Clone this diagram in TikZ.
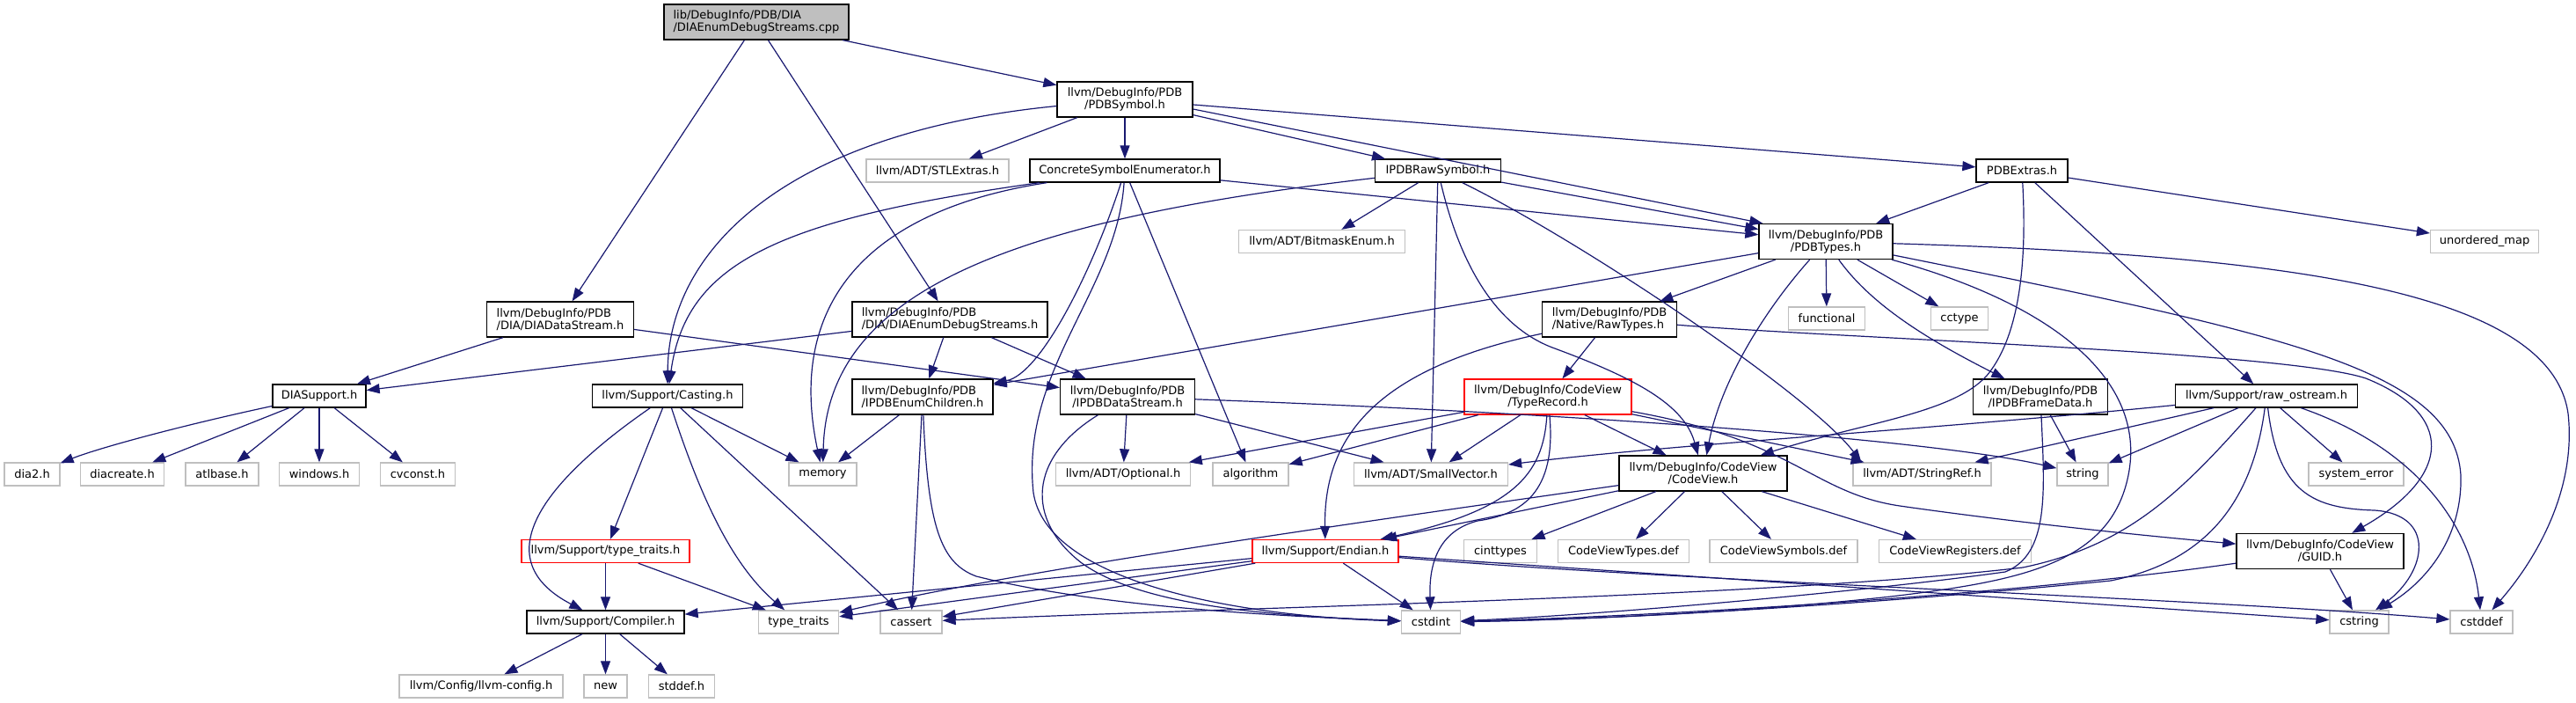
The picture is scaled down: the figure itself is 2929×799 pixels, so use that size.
\documentclass[tikz,border=0pt]{standalone}
\usepackage{fontspec}
\setmainfont{DejaVu Sans}
\usetikzlibrary{arrows.meta}
\definecolor{edgec}{HTML}{191970}
\definecolor{extc}{HTML}{BFBFBF}
\definecolor{redc}{HTML}{FF0000}
\begin{document}
\begin{tikzpicture}[x=1pt,y=-1pt,
  every node/.style={font=\fontsize{13}{14}\selectfont, inner sep=0pt, line width=1.3pt, rectangle, fill=white, minimum height=26pt},
  doc/.style={draw=black},
  ext/.style={draw=extc},
  trn/.style={draw=redc},
  two/.style={minimum height=40pt},
  e/.style={draw=edgec, line width=1.2pt, -{Triangle[length=15pt,width=11pt]}},
]
\useasboundingbox (0,0) rectangle (2929,799);
% nodes
\node[doc,two,fill=extc,align=left,minimum width=210pt] (cpp) at (860,25) {lib/DebugInfo/PDB/DIA\\/DIAEnumDebugStreams.cpp};
\node[doc,two,align=center,minimum width=154pt] (psym) at (1279,113) {llvm/DebugInfo/PDB\\/PDBSymbol.h};
\node[ext,minimum width=162pt] (stl) at (1066,194) {llvm/ADT/STLExtras.h};
\node[doc,minimum width=216pt] (cse) at (1279,194) {ConcreteSymbolEnumerator.h};
\node[doc,minimum width=143pt] (iraw) at (1635,194) {IPDBRawSymbol.h};
\node[doc,minimum width=104pt] (pext) at (2299,194) {PDBExtras.h};
\node[ext,minimum width=123pt] (umap) at (2825,274.5) {unordered\_map};
\node[doc,two,align=center,minimum width=152pt] (ptypes) at (2076,274.5) {llvm/DebugInfo/PDB\\/PDBTypes.h};
\node[ext,minimum width=189pt] (bitm) at (1503,274.5) {llvm/ADT/BitmaskEnum.h};
\node[doc,two,align=left,minimum width=167pt] (dds) at (637,363) {llvm/DebugInfo/PDB\\/DIA/DIADataStream.h};
\node[doc,two,align=left,minimum width=222pt] (deds) at (1080,363) {llvm/DebugInfo/PDB\\/DIA/DIAEnumDebugStreams.h};
\node[doc,two,align=left,minimum width=153pt] (raw) at (1830,363) {llvm/DebugInfo/PDB\\/Native/RawTypes.h};
\node[ext,minimum width=87pt] (func) at (2077,362) {functional};
\node[ext,minimum width=65pt] (cctype) at (2228,362) {cctype};
\node[doc,minimum width=106pt] (dias) at (363,450) {DIASupport.h};
\node[doc,minimum width=171pt] (cast) at (759,450) {llvm/Support/Casting.h};
\node[doc,two,align=left,minimum width=160pt] (iec) at (1049,451) {llvm/DebugInfo/PDB\\/IPDBEnumChildren.h};
\node[doc,two,align=center,minimum width=153pt] (ids) at (1282,451) {llvm/DebugInfo/PDB\\/IPDBDataStream.h};
\node[trn,two,align=center,minimum width=190pt] (trec) at (1760,451) {llvm/DebugInfo/CodeView\\/TypeRecord.h};
\node[doc,two,align=center,minimum width=153pt] (ifd) at (2320,451) {llvm/DebugInfo/PDB\\/IPDBFrameData.h};
\node[doc,minimum width=207pt] (ros) at (2577,450) {llvm/Support/raw\_ostream.h};
\node[ext,minimum width=63pt] (dia2) at (36.5,539) {dia2.h};
\node[ext,minimum width=95pt] (diac) at (139,539) {diacreate.h};
\node[ext,minimum width=83pt] (atl) at (252.5,539) {atlbase.h};
\node[ext,minimum width=91pt] (win) at (363,539) {windows.h};
\node[ext,minimum width=85pt] (cvc) at (475,539) {cvconst.h};
\node[ext,minimum width=77pt] (mem) at (935.5,539) {memory};
\node[ext,minimum width=153pt] (opt) at (1277,539) {llvm/ADT/Optional.h};
\node[ext,minimum width=86pt] (alg) at (1422,539) {algorithm};
\node[ext,minimum width=175pt] (svec) at (1627,539) {llvm/ADT/SmallVector.h};
\node[doc,two,align=center,minimum width=191pt] (cv) at (1936.5,538) {llvm/DebugInfo/CodeView\\/CodeView.h};
\node[ext,minimum width=157pt] (sref) at (2185.5,539) {llvm/ADT/StringRef.h};
\node[ext,minimum width=58pt] (str) at (2368,539) {string};
\node[ext,minimum width=108pt] (syserr) at (2679,539) {system\_error};
\node[trn,minimum width=191pt] (ttr) at (688.5,626.5) {llvm/Support/type\_traits.h};
\node[trn,minimum width=166pt] (endn) at (1507,626.5) {llvm/Support/Endian.h};
\node[ext,minimum width=83pt] (cint) at (1706,626.5) {cinttypes};
\node[ext,minimum width=149pt] (cvt) at (1846,626.5) {CodeViewTypes.def};
\node[ext,minimum width=168pt] (cvs) at (2028,626.5) {CodeViewSymbols.def};
\node[ext,minimum width=173pt] (cvr) at (2223,626.5) {CodeViewRegisters.def};
\node[doc,two,align=center,minimum width=190pt] (guid) at (2638,626.5) {llvm/DebugInfo/CodeView\\/GUID.h};
\node[doc,minimum width=179pt] (comp) at (688.5,707) {llvm/Support/Compiler.h};
\node[ext,minimum width=91pt] (tt) at (908,707) {type\_traits};
\node[ext,minimum width=70pt] (cas) at (1036,707) {cassert};
\node[ext,minimum width=67pt] (cstdint) at (1627,707) {cstdint};
\node[ext,minimum width=67pt] (cstr) at (2682.5,707) {cstring};
\node[ext,minimum width=71pt] (cstdd) at (2821.5,707) {cstddef};
\node[ext,minimum width=186pt] (cfg) at (547,780) {llvm/Config/llvm-config.h};
\node[ext,minimum width=49pt] (new) at (688.5,780) {new};
\node[ext,minimum width=75pt] (stdd) at (775,780) {stddef.h};
% edges
\draw[e] (cpp) -- (dds);
\draw[e] (cpp) -- (deds);
\draw[e] (cpp) -- (psym);
\draw[e] (psym) -- (stl);
\draw[e] (psym) -- (cse);
\draw[e] (psym) -- (iraw);
\draw[e] ([yshift=-11pt]psym.east) -- ([xshift=5pt]ptypes.north west);
\draw[e] ([yshift=-6pt]psym.east) -- (pext);
\draw[e] (psym) .. controls (900,150) and (760,280) .. (cast);
\draw[e] (cse) .. controls (880,250) and (780,300) .. (cast);
\draw[e] (cse) .. controls (980,240) and (895,350) .. (mem);
\draw[e] (cse) -- (ptypes);
\draw[e] (cse) .. controls (1245,300) and (1185,425) .. (iec);
\draw[e] (cse) .. controls (1270,330) and (1160,420) .. (1175,560) .. controls (1190,660) and (1400,700) .. (cstdint);
\draw[e] (cse) -- (alg);
\draw[e] (iraw) -- (bitm);
\draw[e] (iraw) -- (svec);
\draw[e] (iraw) .. controls (1660,300) and (1700,370) .. (1765,395) .. controls (1860,430) and (1915,460) .. (cv);
\draw[e] (iraw) .. controls (1800,275) and (2060,450) .. ([xshift=10pt]sref.north west);
\draw[e] (iraw) -- (ptypes);
\draw[e] (iraw) .. controls (1150,250) and (940,330) .. (mem);
\draw[e] (pext) -- (ptypes);
\draw[e] (pext) -- (ros);
\draw[e] (pext) .. controls (2306,320) and (2290,390) .. (2259,427) .. controls (2220,470) and (2120,480) .. (cv);
\draw[e] (pext) -- (umap);
\draw[e] (ptypes) -- (iec);
\draw[e] (ptypes) -- (raw);
\draw[e] (ptypes) .. controls (2000,360) and (1955,440) .. (cv);
\draw[e] (ptypes) -- (func);
\draw[e] (ptypes) .. controls (2130,350) and (2200,390) .. (ifd);
\draw[e] (ptypes) -- (cctype);
\draw[e] (ptypes) .. controls (2600,290) and (2900,330) .. (2920,470) .. controls (2930,560) and (2880,640) .. (cstdd);
\draw[e] (ptypes) .. controls (2600,380) and (2790,420) .. (2798,540) .. controls (2800,610) and (2760,660) .. (cstr);
\draw[e] (ptypes) .. controls (2350,350) and (2440,440) .. (2420,540) .. controls (2400,640) and (2300,660) .. (2150,678) .. controls (1950,700) and (1750,705) .. (cstdint);
\draw[e] (raw) -- (trec);
\draw[e] (raw) .. controls (1560,420) and (1505,500) .. (endn);
\draw[e] (raw) .. controls (2100,385) and (2600,400) .. (2690,430) .. controls (2790,470) and (2790,540) .. (guid);
\draw[e] (trec) -- (opt);
\draw[e] (trec) -- (alg);
\draw[e] (trec) -- (svec);
\draw[e] (trec) .. controls (1755,540) and (1720,580) .. (endn);
\draw[e] (trec) .. controls (1770,560) and (1730,585) .. (1680,592) .. controls (1630,605) and (1625,650) .. (cstdint);
\draw[e] (trec) -- (cv);
\draw[e] (trec) .. controls (2040,500) and (2060,560) .. (2160,575) .. controls (2300,595) and (2450,610) .. (guid);
\draw[e] (trec) -- (sref);
\draw[e] (cv) .. controls (1500,600) and (1150,650) .. (tt);
\draw[e] (cv) -- (endn);
\draw[e] (cv) -- (cint);
\draw[e] (cv) -- (cvt);
\draw[e] (cv) -- (cvs);
\draw[e] (cv) -- (cvr);
\draw[e] (endn) -- (comp);
\draw[e] (endn) -- (tt);
\draw[e] (endn) -- (cas);
\draw[e] (endn) -- (cstdint);
\draw[e] (endn) .. controls (1900,660) and (2500,680) .. (cstdd);
\draw[e] (endn) -- (cstr);
\draw[e] (comp) -- (cfg);
\draw[e] (comp) -- (new);
\draw[e] (comp) -- (stdd);
\draw[e] (ttr) -- (comp);
\draw[e] (ttr) -- (tt);
\draw[e] (cast) .. controls (600,560) and (560,640) .. (comp);
\draw[e] (cast) -- (ttr);
\draw[e] (cast) .. controls (795,560) and (830,640) .. (tt);
\draw[e] (cast) -- (cas);
\draw[e] (cast) -- (mem);
\draw[e] (dds) -- (dias);
\draw[e] (dds) -- (ids);
\draw[e] (deds) -- (dias);
\draw[e] (deds) -- (iec);
\draw[e] (deds) -- (ids);
\draw[e] (dias) .. controls (200,485) and (110,510) .. (dia2);
\draw[e] (dias) -- (diac);
\draw[e] (dias) -- (atl);
\draw[e] (dias) -- (win);
\draw[e] (dias) -- (cvc);
\draw[e] (iec) -- (mem);
\draw[e] (iec) -- (cas);
\draw[e] (iec) .. controls (1055,600) and (1070,640) .. (1110,655) .. controls (1250,690) and (1450,700) .. (cstdint);
\draw[e] (ids) -- (opt);
\draw[e] (ids) -- (svec);
\draw[e] (ids) .. controls (1800,470) and (2200,500) .. (str);
\draw[e] (ids) .. controls (1170,520) and (1165,590) .. (1230,640) .. controls (1300,690) and (1450,700) .. (cstdint);
\draw[e] (ifd) -- (str);
\draw[e] (ifd) .. controls (2325,560) and (2330,630) .. (2280,650) .. controls (2100,675) and (1800,700) .. (cstdint);
\draw[e] (ros) .. controls (2200,488) and (1900,505) .. (svec);
\draw[e] (ros) -- (sref);
\draw[e] (ros) -- (str);
\draw[e] (ros) -- (syserr);
\draw[e] (ros) .. controls (2750,510) and (2810,600) .. (cstdd);
\draw[e] (ros) .. controls (2590,560) and (2630,578) .. (2700,580) .. controls (2770,585) and (2760,650) .. (cstr);
\draw[e] (ros) .. controls (2560,580) and (2500,640) .. (2400,660) .. controls (2100,690) and (1800,705) .. (cstdint);
\draw[e] (ros) .. controls (2480,560) and (2420,620) .. (2300,645) .. controls (2000,680) and (1400,690) .. (cas);
\draw[e] (guid) -- (cstr);
\draw[e] (guid) .. controls (2300,675) and (1900,700) .. (cstdint);
\end{tikzpicture}
\end{document}
